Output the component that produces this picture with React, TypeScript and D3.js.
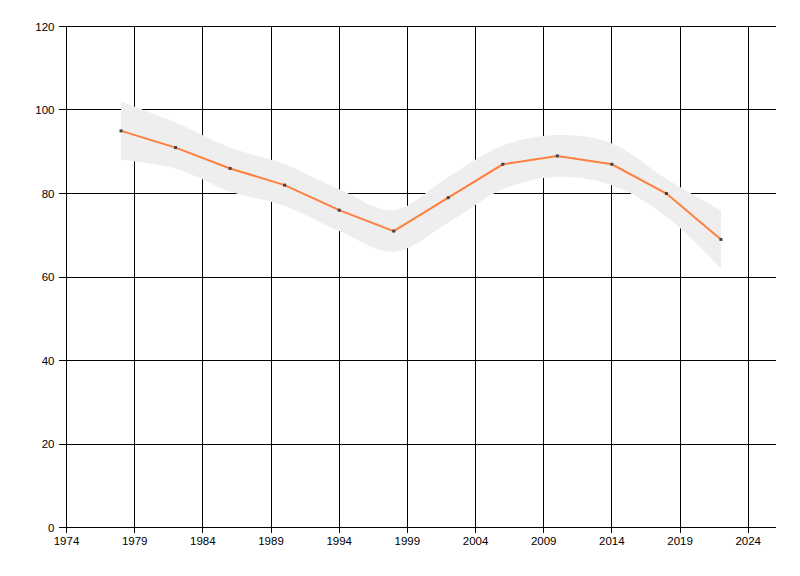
import React from "react";
import * as d3 from "d3";

const years = [1978, 1982, 1986, 1990, 1994, 1998, 2002, 2006, 2010, 2014, 2018, 2022];
const values = [95, 91, 86, 82, 76, 71, 79, 87, 89, 87, 80, 69];
const upper = [102, 97, 91, 87, 81, 76, 84, 91.5, 94, 92, 83.5, 76];
const lower = [88, 86, 80.5, 77, 71, 66, 73, 81, 84, 82, 74.5, 62];
const xTicks = [1974, 1979, 1984, 1989, 1994, 1999, 2004, 2009, 2014, 2019, 2024];
const yTicks = [0, 20, 40, 60, 80, 100, 120];

const W = 800;
const H = 576;

export default function App() {
  const x = d3.scaleLinear().domain([1974, 2026]).range([66.5, 775.5]);
  const y = d3.scaleLinear().domain([0, 120]).range([527.5, 26.5]);
  const px = (v: number) => Math.floor(x(v)) + 0.5;
  const py = (v: number) => Math.floor(y(v)) + 0.5;

  const idx = years.map((_, i) => i);
  const band = d3
    .area<number>()
    .x((i) => x(years[i]))
    .y0((i) => y(lower[i]))
    .y1((i) => y(upper[i]))
    .curve(d3.curveCatmullRom.alpha(0.5));
  const line = d3
    .line<number>()
    .x((i) => x(years[i]))
    .y((i) => y(values[i]));

  const font = "'Liberation Sans', Arial, sans-serif";

  return (
    <svg
      width={W}
      height={H}
      style={{ position: "absolute", left: 0, top: 0, display: "block", background: "#fff" }}
    >
      <rect x={0} y={0} width={W} height={H} fill="#fff" />
      {/* grid */}
      <g stroke="#000" strokeWidth={1} shapeRendering="crispEdges">
        {xTicks.slice(1).map((t) => (
          <line key={"vx" + t} x1={px(t)} x2={px(t)} y1={py(120)} y2={py(0)} />
        ))}
        {yTicks.slice(1).map((t) => (
          <line key={"hy" + t} x1={px(1974)} x2={px(2026)} y1={py(t)} y2={py(t)} />
        ))}
      </g>
      {/* band */}
      <path d={band(idx) || ""} fill="#eeeeee" stroke="none" />
      {/* axes */}
      <g stroke="#000" strokeWidth={1} shapeRendering="crispEdges">
        <line x1={px(1974)} x2={px(1974)} y1={py(120)} y2={py(0)} />
        <line x1={px(1974)} x2={px(2026)} y1={py(0)} y2={py(0)} />
        {yTicks.map((t) => (
          <line key={"ty" + t} x1={px(1974) - 8} x2={px(1974)} y1={py(t)} y2={py(t)} />
        ))}
        {xTicks.map((t) => (
          <line key={"tx" + t} x1={px(t)} x2={px(t)} y1={py(0)} y2={py(0) + 5} />
        ))}
      </g>
      {/* labels */}
      <g fontFamily={font} fontSize={11.5} fill="#000">
        {yTicks.map((t) => (
          <text key={"ly" + t} x={px(1974) - 12} y={y(t)} dy="0.36em" textAnchor="end">
            {t}
          </text>
        ))}
        {xTicks.map((t) => (
          <text key={"lx" + t} x={x(t)} y={545} textAnchor="middle">
            {t}
          </text>
        ))}
      </g>
      {/* line */}
      <path d={line(idx) || ""} fill="none" stroke="#ff7f3f" strokeWidth={2} />
      {idx.map((i) => (
        <rect
          key={"m" + i}
          x={x(years[i]) - 1.5}
          y={y(values[i]) - 1.5}
          width={3}
          height={3}
          fill="#444"
        />
      ))}
    </svg>
  );
}
